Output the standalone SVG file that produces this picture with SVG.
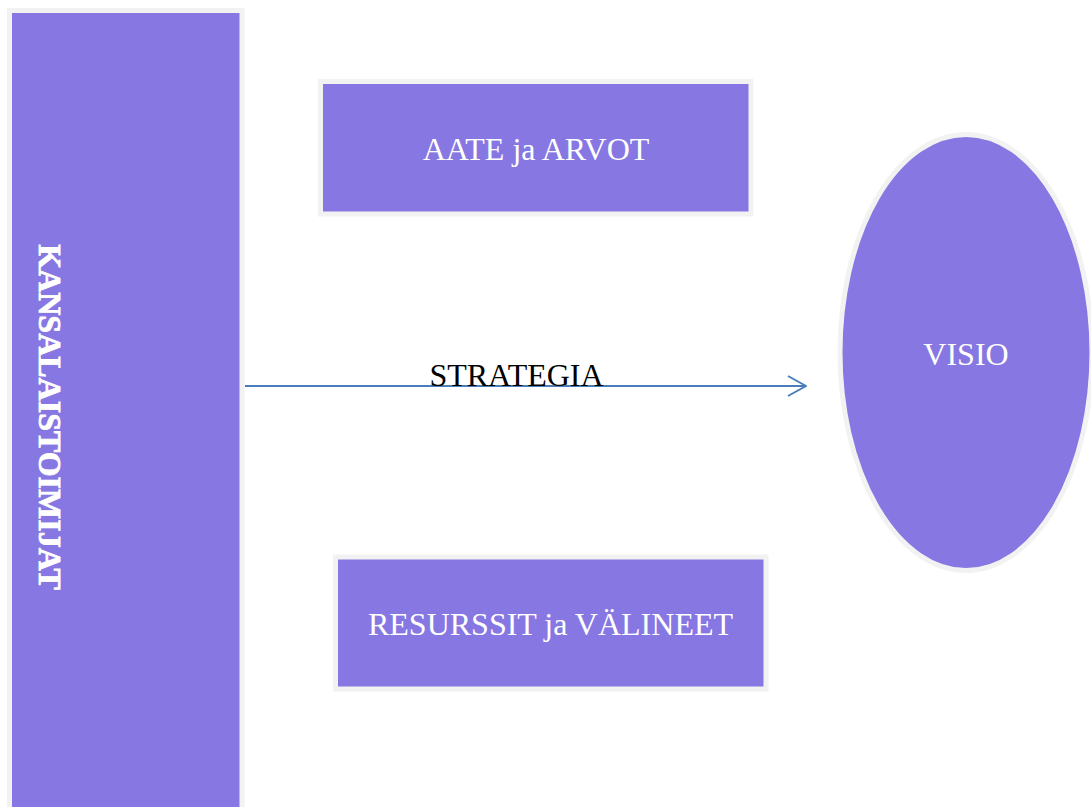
<svg xmlns="http://www.w3.org/2000/svg" width="1091" height="807" viewBox="0 0 1091 807">
  <style>
    .shape { fill: #8777E2; stroke: #F2F2F2; stroke-width: 5; }
    .label { font-family: "Liberation Serif", "Times New Roman", serif; font-size: 32px; fill: #FFFFFF; text-anchor: middle; }
    .label-bold { font-weight: 700; font-size: 32px; stroke: #FFFFFF; stroke-width: 0.8; }
    .conn { stroke: #4A7EBB; stroke-width: 2; fill: none; }
    .conn-label { font-family: "Liberation Serif", "Times New Roman", serif; font-size: 32px; fill: #000000; text-anchor: middle; }
  </style>
  <defs>
    <marker id="open-arrow" viewBox="0 0 20 24" refX="19" refY="12" markerWidth="20" markerHeight="24" markerUnits="userSpaceOnUse" orient="auto">
      <path d="M1,2 L19,12 L1,22" fill="none" stroke="#4A7EBB" stroke-width="2"/>
    </marker>
  </defs>
  <rect width="1091" height="807" fill="#FFFFFF"/>

  <g id="kansalaistoimijat">
    <rect class="shape" x="9.5" y="10.5" width="232.5" height="830"/>
    <text class="label label-bold" font-weight="bold" transform="translate(39,417) rotate(90)">KANSALAISTOIMIJAT</text>
  </g>

  <g id="aate-ja-arvot">
    <rect class="shape" x="320.5" y="81.5" width="430.5" height="132.5"/>
    <text class="label" x="536" y="160">AATE ja ARVOT</text>
  </g>

  <g id="resurssit-ja-valineet">
    <rect class="shape" x="335.5" y="557" width="430.5" height="132"/>
    <text class="label" x="550.5" y="635">RESURSSIT ja VÄLINEET</text>
  </g>

  <g id="visio">
    <ellipse class="shape" cx="966" cy="352.5" rx="126" ry="218"/>
    <text class="label" x="966" y="365">VISIO</text>
  </g>

  <g id="connectors">
    <line class="conn" x1="245" y1="386" x2="806" y2="386" marker-end="url(#open-arrow)"/>
    <text class="conn-label" x="516.5" y="386">STRATEGIA</text>
  </g>
</svg>
